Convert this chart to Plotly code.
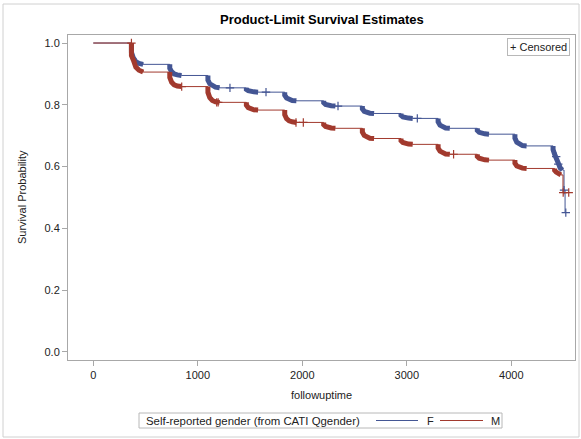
import plotly.graph_objects as go

# ---------------- data ----------------
F_time = [0,
          365, 383, 407, 437, 477,
          732, 750, 774, 804, 844,
          1097, 1115, 1139, 1169, 1209,
          1465, 1483, 1507, 1537, 1577,
          1832, 1850, 1874, 1904, 1944,
          2205, 2223, 2247, 2277, 2317,
          2575, 2593, 2617, 2647, 2687,
          2945, 2963, 2987, 3017, 3057,
          3300, 3318, 3342, 3372, 3412,
          3675, 3693, 3717, 3747, 3787,
          4035, 4053, 4077, 4107, 4147,
          4400, 4415, 4430, 4450, 4470, 4490,
          4505, 4515, 4522]
F_surv = [1.0,
          0.970, 0.952, 0.940, 0.934, 0.931,
          0.918, 0.907, 0.900, 0.897, 0.895,
          0.880, 0.868, 0.861, 0.857, 0.855,
          0.850, 0.846, 0.843, 0.842, 0.841,
          0.831, 0.822, 0.817, 0.814, 0.813,
          0.807, 0.801, 0.798, 0.797, 0.796,
          0.787, 0.779, 0.775, 0.773, 0.772,
          0.766, 0.761, 0.758, 0.757, 0.756,
          0.745, 0.734, 0.728, 0.725, 0.724,
          0.717, 0.711, 0.707, 0.706, 0.705,
          0.692, 0.679, 0.672, 0.668, 0.667,
          0.655, 0.640, 0.625, 0.608, 0.595, 0.589,
          0.524, 0.451, 0.451]

M_time = [0,
          365, 383, 407, 437, 477,
          732, 750, 774, 804, 844,
          1097, 1115, 1139, 1169, 1209,
          1465, 1483, 1507, 1537, 1577,
          1832, 1850, 1874, 1904, 1944,
          2205, 2223, 2247, 2277, 2317,
          2575, 2593, 2617, 2647, 2687,
          2945, 2963, 2987, 3017, 3057,
          3300, 3318, 3342, 3372, 3412,
          3675, 3693, 3717, 3747, 3787,
          4035, 4053, 4077, 4107, 4147,
          4415, 4430, 4450, 4475,
          4495, 4550]
M_surv = [1.0,
          0.960, 0.945, 0.922, 0.912, 0.906,
          0.888, 0.873, 0.865, 0.861, 0.859,
          0.840, 0.823, 0.814, 0.810, 0.808,
          0.799, 0.791, 0.786, 0.784, 0.783,
          0.768, 0.755, 0.748, 0.745, 0.743,
          0.736, 0.730, 0.727, 0.725, 0.724,
          0.712, 0.701, 0.695, 0.692, 0.691,
          0.684, 0.678, 0.675, 0.673, 0.672,
          0.660, 0.650, 0.644, 0.641, 0.640,
          0.633, 0.627, 0.624, 0.622, 0.621,
          0.611, 0.602, 0.597, 0.595, 0.594,
          0.588, 0.582, 0.577, 0.573,
          0.516, 0.516]

# individual censoring marks on the flat parts
F_cens_t = [1308, 1653, 2342, 3101, 4430, 4450, 4505, 4522]
F_cens_s = [0.855, 0.841, 0.796, 0.756, 0.632, 0.608, 0.524, 0.451]
M_cens_t = [365, 846, 1181, 1195, 1940, 2010, 3448, 4497, 4550]
M_cens_s = [1.0, 0.859, 0.808, 0.808, 0.743, 0.743, 0.640, 0.516, 0.516]

# number of trailing points that are single steps (not part of a dense cluster)
F_tail = 3
M_tail = 2

x_ticks = [0, 1000, 2000, 3000, 4000]
y_ticks = [0.0, 0.2, 0.4, 0.6, 0.8, 1.0]

BLUE = "#445694"
RED = "#A23A2E"

# pixel layout helpers
L, R, T, B = 68, 575, 35, 360
W, H = 581, 439


def px(x):
    return (x - L) / (R - L)


def py(y):
    return (B - y) / (B - T)


def blob(times, surv):
    """Dense event/censoring clusters drawn as a thick stroke."""
    bx, by = [], []
    i = 1
    n = len(times)
    while i < n:
        j = i
        while j + 1 < n and times[j + 1] - times[j] < 45:
            j += 1
        if j > i:
            bx += [times[i]] + times[i:j + 1] + [None]
            by += [surv[i - 1]] + surv[i:j + 1] + [None]
        i = j + 1
    return bx, by


fig = go.Figure()
for t, s, col, tail in [(F_time, F_surv, BLUE, F_tail), (M_time, M_surv, RED, M_tail)]:
    bx, by = blob(t[:-tail], s[:-tail])
    fig.add_trace(go.Scatter(x=bx, y=by, mode="lines",
                             line=dict(color=col, width=5), hoverinfo="skip",
                             showlegend=False, connectgaps=False))
    fig.add_trace(go.Scatter(x=t, y=s, mode="lines", line=dict(color=col, width=1, shape="hv"),
                             showlegend=False))

fig.add_trace(go.Scatter(x=F_cens_t, y=F_cens_s, mode="markers",
                         marker=dict(symbol="cross-thin", size=6, line=dict(color=BLUE, width=1.2)),
                         showlegend=False))
fig.add_trace(go.Scatter(x=M_cens_t, y=M_cens_s, mode="markers",
                         marker=dict(symbol="cross-thin", size=6, line=dict(color=RED, width=1.2)),
                         showlegend=False))

FONT = "Liberation Sans, Arial, sans-serif"
axis_common = dict(showline=True, linecolor="#a8a8a8", linewidth=1, mirror=True,
                   ticks="outside", ticklen=5, tickcolor="#a8a8a8", showgrid=False,
                   zeroline=False, tickfont=dict(family=FONT, size=11, color="#222222"))

fig.update_xaxes(range=[-242, 4610], tickvals=x_ticks, ticktext=[str(v) for v in x_ticks],
                 **axis_common)
fig.update_yaxes(range=[-0.026, 1.026], tickvals=y_ticks, ticktext=[f"{v:.1f}" for v in y_ticks],
                 **axis_common)

shapes = [
    # outer figure frame
    dict(type="rect", xref="paper", yref="paper",
         x0=px(3), x1=px(579), y0=py(437), y1=py(4),
         line=dict(color="#d0d0d0", width=1), layer="below"),
    # legend box
    dict(type="rect", xref="paper", yref="paper",
         x0=px(139), x1=px(502), y0=py(428), y1=py(413),
         line=dict(color="#b8b8b8", width=1)),
    dict(type="line", xref="paper", yref="paper",
         x0=px(376), x1=px(418), y0=py(420.5), y1=py(420.5),
         line=dict(color=BLUE, width=1)),
    dict(type="line", xref="paper", yref="paper",
         x0=px(440), x1=px(483), y0=py(420.5), y1=py(420.5),
         line=dict(color=RED, width=1)),
]

annotations = [
    dict(text="<b>Product-Limit Survival Estimates</b>", xref="paper", yref="paper",
         x=px(322), y=py(20), showarrow=False, xanchor="center", yanchor="middle",
         font=dict(family=FONT, size=13, color="#000000")),
    dict(text="followuptime", xref="paper", yref="paper", x=px(321), y=py(395),
         showarrow=False, xanchor="center", yanchor="middle",
         font=dict(family=FONT, size=11, color="#222222")),
    dict(text="Survival Probability", xref="paper", yref="paper", x=px(22), y=py(197),
         showarrow=False, xanchor="center", yanchor="middle", textangle=-90,
         font=dict(family=FONT, size=11, color="#222222")),
    dict(text="+ Censored", xref="paper", yref="paper", x=px(570), y=py(38),
         showarrow=False, xanchor="right", yanchor="top",
         bordercolor="#b8b8b8", borderwidth=1, borderpad=2, bgcolor="white",
         font=dict(family=FONT, size=11, color="#222222")),
    dict(text="Self-reported gender (from CATI Qgender)", xref="paper", yref="paper",
         x=px(144), y=py(420.5), showarrow=False, xanchor="left", yanchor="middle",
         font=dict(family=FONT, size=11.4, color="#222222")),
    dict(text="F", xref="paper", yref="paper", x=px(425), y=py(420.5), showarrow=False,
         xanchor="left", yanchor="middle", font=dict(family=FONT, size=11, color="#222222")),
    dict(text="M", xref="paper", yref="paper", x=px(489), y=py(420.5), showarrow=False,
         xanchor="left", yanchor="middle", font=dict(family=FONT, size=11, color="#222222")),
]

fig.update_layout(width=W, height=H, margin=dict(l=L, r=W - R, t=T, b=H - B),
                  paper_bgcolor="white", plot_bgcolor="white", showlegend=False,
                  shapes=shapes, annotations=annotations,
                  font=dict(family=FONT))

fig.write_html("out.html")
